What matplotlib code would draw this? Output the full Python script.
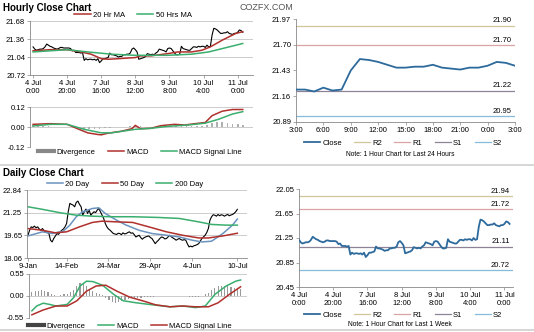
import numpy as np
import matplotlib.pyplot as plt
from matplotlib.lines import Line2D

plt.rcParams['font.family'] = ['Liberation Sans', 'DejaVu Sans']

# ---- hourly data (index 0 = 4 Jul 0:00, one bar per trading hour) ----
hourly_close = [
    21.22, 21.18, 21.16, 21.17, 21.18, 21.18, 21.19, 21.22, 21.27, 21.25,
    21.23, 21.22, 21.20, 21.19, 21.18, 21.19, 21.21, 21.21, 21.20, 21.20,
    21.20, 21.20, 21.19, 21.15, 21.16, 21.12, 21.12, 21.12, 21.11, 21.12,
    20.98, 21.01, 20.99, 21.00, 21.00, 20.99, 21.00, 20.98, 21.01, 20.94,
    20.97, 21.01, 21.01, 21.02, 21.03, 21.11, 21.08, 21.08, 21.07, 21.06,
    21.04, 21.05, 21.05, 21.08, 21.08, 21.09, 21.09, 21.11, 21.18, 21.20,
    21.17, 21.13, 21.00, 21.01, 21.02, 21.03, 21.05, 21.10, 21.09, 21.08,
    21.09, 21.08, 21.11, 21.13, 21.18, 21.17, 21.16, 21.15, 21.13, 21.19,
    21.20, 21.19, 21.15, 21.11, 21.08, 21.08, 21.09, 21.23, 21.19, 21.18,
    21.17, 21.16, 21.16, 21.19, 21.22, 21.22, 21.21, 21.23, 21.22,
    21.23, 21.23, 21.21, 21.25, 21.22, 21.23, 21.43, 21.55, 21.54, 21.52,
    21.49, 21.46, 21.46, 21.47, 21.47, 21.49, 21.46, 21.45, 21.44, 21.46,
    21.46, 21.48, 21.52, 21.51, 21.48,
]
hourly_ticks = [0, 20, 40, 60, 80, 100, 120]
hourly_labels = ['4 Jul\n0:00', '4 Jul\n20:00', '7 Jul\n16:00', '8 Jul\n12:00',
                 '9 Jul\n8:00', '10 Jul\n4:00', '11 Jul\n0:00']

ma20_x = [0, 10, 20, 28, 34, 40, 44, 50, 60, 63, 69, 79, 85, 93, 99, 104, 111, 119, 123]
ma20_y = [21.15, 21.17, 21.17, 21.13, 21.09, 21.01, 21.00, 21.01, 21.03, 21.06,
          21.06, 21.10, 21.13, 21.13, 21.16, 21.22, 21.34, 21.46, 21.49]
ma50_x = [0, 20, 32, 46, 60, 79, 93, 103, 111, 123]
ma50_y = [21.13, 21.17, 21.13, 21.09, 21.07, 21.07, 21.09, 21.13, 21.19, 21.28]

hmacd_x = [0, 10, 20, 26, 32, 38, 40, 44, 52, 58, 60, 63, 69, 75, 83, 89, 95, 101, 105, 111, 117, 123]
hmacd_y = [0.016, 0.02, 0.016, -0.01, -0.035, -0.045, -0.047, -0.037, -0.025, -0.01, 0.01,
           -0.01, -0.008, 0.008, 0.016, 0.012, 0.02, 0.027, 0.068, 0.095, 0.105, 0.105]
hsig_x = [0, 10, 20, 30, 40, 46, 60, 69, 79, 91, 101, 109, 117, 123]
hsig_y = [0.006, 0.016, 0.016, -0.014, -0.035, -0.035, -0.014, -0.008, 0.004, 0.012,
          0.023, 0.047, 0.078, 0.092]
hdiv_x = list(range(0, 124, 3))
hdiv_y = [0.01, 0.005, 0.004, 0.004, 0.003, 0.002, 0.0, -0.002, -0.005, -0.008,
          -0.01, -0.012, -0.012, -0.01, -0.006, -0.003, 0.0, 0.002, 0.003, 0.004,
          0.012, 0.004, 0.002, 0.001, 0.003, 0.005, 0.006, 0.006, 0.004, 0.006,
          0.004, 0.005, 0.006, 0.006, 0.01, 0.025, 0.032, 0.03, 0.025, 0.02,
          0.016, 0.012]

# last 24 hours chart
day_labels = ['3:00', '6:00', '9:00', '12:00', '15:00', '18:00', '21:00', '0:00', '3:00']
levels_24h = [21.90, 21.70, 21.22, 20.95]   # R2, R1, S1, S2
levels_week = [21.94, 21.72, 21.11, 20.72]
level_names = ['R2', 'R1', 'S1', 'S2']

# ---- daily data (index 0 = 9 Jan) ----
daily_close = [
    19.66, 20.01, 20.25, 20.20, 20.30, 20.18, 20.25, 20.10, 20.01, 20.13,
    19.98, 19.90, 19.85, 19.78, 19.31, 19.19, 19.43, 19.60, 19.78, 19.72,
    19.90, 20.01, 20.10, 20.25, 20.49, 21.31, 21.90, 21.83, 21.78, 21.66,
    21.97, 22.06, 21.83, 21.66, 21.07, 21.31, 21.50, 21.19, 21.43, 21.07,
    21.20, 21.31, 21.25, 21.43, 21.54, 21.31, 21.07, 20.84, 20.49, 20.25,
    20.10, 20.01, 19.90, 19.78, 19.75, 19.71, 19.80, 19.78, 19.70, 19.83,
    19.75, 19.78, 19.85, 19.90, 19.80, 19.83, 19.70, 19.54, 19.60, 19.66,
    19.50, 19.38, 19.48, 19.54, 19.58, 19.61, 19.50, 19.43, 19.25, 19.07,
    19.20, 19.31, 19.45, 19.54, 19.50, 19.40, 19.43, 19.55, 19.66, 19.55,
    19.47, 19.40, 19.31, 19.38, 19.43, 19.35, 19.31, 19.35, 19.31, 19.05,
    18.84, 18.90, 18.84, 18.92, 18.95, 19.00, 19.07, 19.25, 19.43, 19.55,
    19.66, 19.85, 20.13, 20.72, 20.96, 21.10, 21.07, 21.00, 21.12, 21.03,
    21.10, 21.07, 21.00, 21.07, 21.12, 21.03, 21.08, 21.12, 21.20, 21.31, 21.48,
]
daily_ticks = [0, 24, 50, 76, 102, 130]
daily_labels = ['9-Jan', '14-Feb', '24-Mar', '29-Apr', '4-Jun', '10-Jul']

d20_x = [0, 9, 15, 22, 26, 30, 34, 40, 44, 48, 55, 61, 69, 77, 86, 94, 102, 108, 114, 121, 127, 130]
d20_y = [19.61, 19.90, 19.78, 19.95, 20.37, 20.96, 21.31, 21.54, 21.59, 21.19, 20.72,
         20.37, 20.01, 19.78, 19.66, 19.54, 19.31, 19.19, 19.24, 19.78, 20.37, 20.80]
d50_x = [0, 9, 17, 24, 32, 40, 46, 55, 65, 75, 86, 96, 106, 112, 121, 130]
d50_y = [20.13, 20.01, 19.83, 19.90, 20.25, 20.56, 20.65, 20.60, 20.56, 20.25, 19.90,
         19.66, 19.47, 19.47, 19.61, 19.80]
d200_x = [0, 9, 20, 30, 40, 51, 65, 81, 94, 106, 114, 123, 130]
d200_y = [21.66, 21.48, 21.24, 21.07, 21.00, 20.96, 20.96, 20.91, 20.84, 20.60, 20.42,
          20.37, 20.37]

dmacd_x = [0, 3, 7, 11, 15, 22, 26, 30, 34, 38, 44, 51, 57, 65, 75, 86, 94, 102, 108, 114, 121, 127, 130]
dmacd_y = [-0.37, -0.25, -0.18, -0.21, -0.25, -0.21, -0.04, 0.25, 0.37, 0.36, 0.27, 0.04,
           -0.12, -0.17, -0.22, -0.27, -0.25, -0.29, -0.25, 0.04, 0.25, 0.37, 0.40]
dsig_x = [0, 7, 15, 22, 28, 34, 40, 46, 53, 61, 69, 77, 86, 94, 102, 110, 116, 123, 130]
dsig_y = [-0.47, -0.35, -0.25, -0.25, -0.12, 0.12, 0.25, 0.27, 0.12, -0.03, -0.12, -0.22,
          -0.27, -0.25, -0.27, -0.27, -0.17, 0.04, 0.23]
ddiv_x = list(range(0, 131, 2))
ddiv_y = [0.10, 0.12, 0.13, 0.14, 0.13, 0.10, 0.06, 0.02, 0.0, 0.02,
          0.04, 0.06, 0.10, 0.16, 0.26, 0.32, 0.30, 0.24, 0.18, 0.12,
          0.08, 0.04, 0.02, -0.04, -0.10, -0.14, -0.17, -0.16, -0.13, -0.10,
          -0.08, -0.06, -0.05, -0.04, -0.04, -0.03, -0.03, -0.02, -0.02, -0.01,
          -0.01, 0.0, 0.0, 0.0, 0.01, 0.0, 0.0, 0.0, -0.01, -0.02,
          -0.03, -0.03, -0.02, 0.0, 0.04, 0.08, 0.14, 0.20, 0.24, 0.26,
          0.25, 0.24, 0.22, 0.20, 0.18, 0.17]

# colours
RED = '#b0302c'
GREEN = '#3aae6e'
BLUE20 = '#6a93be'
CLOSE = '#2d6a9c'
LEVEL_COLORS = ['#cfc79a', '#dca3a3', '#8e8296', '#86bbdc']
DIVC = '#b0b0b0'
FS = 5.5

W, H = 534, 332
fig = plt.figure(figsize=(W / 100, H / 100), dpi=100)


def add_ax(l, t, r, b):
    return fig.add_axes([l / W, 1 - b / H, (r - l) / W, (b - t) / H])


def style(ax, grid=True):
    for s in ['top', 'right']:
        ax.spines[s].set_visible(False)
    for s in ['left', 'bottom']:
        ax.spines[s].set_color('#888888')
        ax.spines[s].set_linewidth(0.6)
    ax.tick_params(labelsize=FS, length=2, width=0.5, color='#888888', pad=1.5)
    if grid:
        ax.yaxis.grid(True, color='#c4c4c4', lw=0.6)
        ax.set_axisbelow(True)


def ftext(x, y, s, **kw):
    fig.text(x / W, 1 - y / H, s, **kw)


def flegend(ax, handles, labels, x, y):
    ax.legend(handles, labels, loc='center', bbox_to_anchor=(x / W, 1 - y / H),
              bbox_transform=fig.transFigure, frameon=False, fontsize=FS,
              ncol=len(labels), handlelength=2.1, columnspacing=1.6,
              handletextpad=0.3, borderaxespad=0, borderpad=0)


ftext(3, 8, 'Hourly Close Chart', fontsize=7, fontweight='bold', va='center')
ftext(3, 173, 'Daily Close Chart', fontsize=7, fontweight='bold', va='center')
ftext(266, 7, 'COZFX.COM', fontsize=6.5, color='#555555', ha='center', va='center')

# separator lines
fig.add_artist(Line2D([0, 1], [1 - 165 / H, 1 - 165 / H], color='#d0d0d0', lw=1.2))
fig.add_artist(Line2D([0, 1], [1 - 330 / H, 1 - 330 / H], color='#d0d0d0', lw=1.2))

# ---- hourly price ----
hx = np.arange(len(hourly_close))
ax = add_ax(30, 21, 253, 75)
style(ax)
ax.plot(hx, hourly_close, color='black', lw=0.8)
l1, = ax.plot(ma20_x, ma20_y, color=RED, lw=1.1)
l2, = ax.plot(ma50_x, ma50_y, color=GREEN, lw=1.1)
ax.set_ylim(20.72, 21.68)
ax.set_yticks([20.72, 21.04, 21.36, 21.68])
ax.set_xlim(-1.8, 129)
ax.set_xticks(hourly_ticks)
ax.set_xticklabels(hourly_labels)
flegend(ax, [l1, l2], ['20 Hr MA', '50 Hrs MA'], 133, 15)

# ---- hourly MACD ----
ax = add_ax(30, 107, 253, 147)
style(ax)
ax.bar(hdiv_x, hdiv_y, width=1.0, color=DIVC)
m1, = ax.plot(hmacd_x, hmacd_y, color=RED, lw=1.1)
m2, = ax.plot(hsig_x, hsig_y, color=GREEN, lw=1.1)
ax.set_ylim(-0.12, 0.12)
ax.set_yticks([-0.12, 0.0, 0.12])
ax.set_yticklabels(['-0.12', '0.00', '0.12'])
ax.set_xlim(-1.8, 129)
ax.set_xticks([])
ax.spines['bottom'].set_visible(False)
dv = Line2D([], [], color='#888888', lw=3)
flegend(ax, [dv, m1, m2], ['Divergence', 'MACD', 'MACD Signal Line'], 140, 152)


def level_chart(ax, x, y, levels, lim, yt, xl, note_y, note, leg_y):
    style(ax, grid=False)
    handles = []
    c, = ax.plot(x, y, color=CLOSE, lw=1.3, zorder=3)
    handles.append(c)
    for lev, col in zip(levels, LEVEL_COLORS):
        h = ax.axhline(lev, color=col, lw=0.9)
        handles.append(h)
        ax.text(xl[1] - 0.015 * (xl[1] - xl[0]), lev + 0.012 * (lim[1] - lim[0]),
                f'{lev:.2f}', fontsize=FS, ha='right', va='bottom')
    ax.set_ylim(*lim)
    ax.set_yticks(yt)
    ax.set_yticklabels([f'{v:.2f}' for v in yt])
    ax.set_xlim(*xl)
    flegend(ax, handles, ['Close'] + level_names, 403, leg_y)
    ftext(400, note_y, note, fontsize=4.8, ha='center', va='center')


# ---- last 24 hours ----
ax = add_ax(296, 19, 515, 122)
x24 = np.arange(25)
level_chart(ax, x24, hourly_close[-25:], levels_24h, (20.89, 21.97),
            [20.89, 21.16, 21.43, 21.70, 21.97], (0, 24), 154,
            'Note: 1 Hour Chart for Last 24 Hours', 143)
ax.set_xticks(range(0, 25, 3))
ax.set_xticklabels(day_labels)

# ---- last week ----
ax = add_ax(299, 189, 513, 287)
level_chart(ax, hx, hourly_close, levels_week, (20.45, 22.05),
            [20.45, 20.85, 21.25, 21.65, 22.05], (0, 125), 325,
            'Note: 1 Hour Chart for Last 1 Week', 315)
ax.set_xticks(hourly_ticks)
ax.set_xticklabels(hourly_labels)

# ---- daily price ----
dx = np.arange(len(daily_close))
ax = add_ax(27, 190, 247, 258)
style(ax)
ax.plot(dx, daily_close, color='black', lw=0.8)
a1, = ax.plot(d20_x, d20_y, color=BLUE20, lw=1.1)
a2, = ax.plot(d50_x, d50_y, color=RED, lw=1.1)
a3, = ax.plot(d200_x, d200_y, color=GREEN, lw=1.1)
ax.set_ylim(18.06, 22.84)
ax.set_yticks([18.06, 19.65, 21.25, 22.84])
ax.set_xlim(-0.6, 136)
ax.set_xticks(daily_ticks)
ax.set_xticklabels(daily_labels)
flegend(ax, [a1, a2, a3], ['20 Day', '50 Day', '200 Day'], 125, 184)

# ---- daily MACD ----
ax = add_ax(29, 274, 247, 318)
style(ax)
ax.bar(ddiv_x, ddiv_y, width=0.7, color='#9a9a9a')
b1, = ax.plot(dmacd_x, dmacd_y, color=GREEN, lw=1.1)
b2, = ax.plot(dsig_x, dsig_y, color=RED, lw=1.1)
ax.set_ylim(-0.55, 0.55)
ax.set_yticks([-0.55, 0.0, 0.55])
ax.set_yticklabels(['-0.55', '0.00', '0.55'])
ax.set_xlim(-1.8, 134)
ax.set_xticks([])
ax.spines['bottom'].set_visible(False)
dv2 = Line2D([], [], color='#444444', lw=3)
flegend(ax, [dv2, b1, b2], ['Divergence', 'MACD', 'MACD Signal Line'], 130, 326)

fig.savefig('out.png', dpi=100)
